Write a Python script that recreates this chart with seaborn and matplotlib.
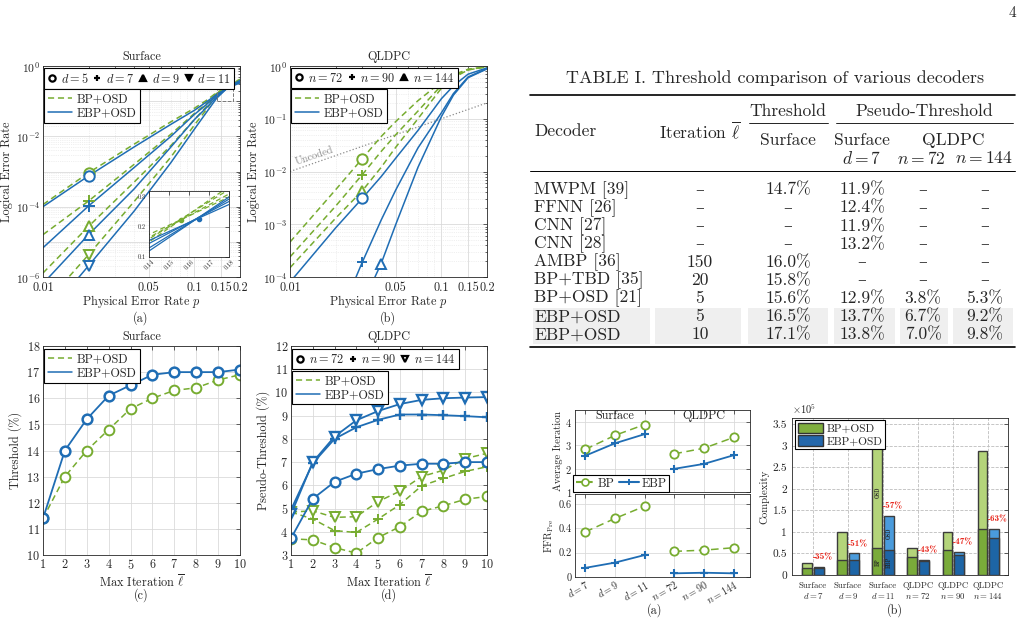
import numpy as np
import pandas as pd
import matplotlib
matplotlib.use('Agg')
from matplotlib import pyplot as plt
from matplotlib import ticker
from matplotlib.lines import Line2D
from matplotlib.patches import Patch, Rectangle
import seaborn as sns

# ---------------- data ----------------
# (a) surface code: logical error rate vs physical error rate
surf_p = [0.01, 0.02, 0.04, 0.07, 0.1, 0.12, 0.14, 0.16, 0.18, 0.2]
surf_d = [5, 7, 9, 11]
surf_bp_d5 = [1.15e-4, 9.2e-4, 6.0e-3, 2.6e-2, 6.3e-2, 0.105, 0.175, 0.237, 0.30, 0.36]
surf_bp_d7 = [1.6e-5, 1.45e-4, 1.6e-3, 1.15e-2, 4.5e-2, 8.5e-2, 0.165, 0.238, 0.31, 0.38]
surf_bp_d9 = [1.3e-6, 2.75e-5, 5.0e-4, 5.5e-3, 3.0e-2, 7.0e-2, 0.16, 0.243, 0.325, 0.40]
surf_bp_d11 = [1.5e-7, 4.3e-6, 1.4e-4, 2.6e-3, 2.1e-2, 5.8e-2, 0.15, 0.243, 0.335, 0.42]
surf_ebp_d5 = [1.0e-4, 7.5e-4, 5.0e-3, 2.2e-2, 5.5e-2, 9.5e-2, 0.155, 0.215, 0.275, 0.33]
surf_ebp_d7 = [6.8e-6, 1.05e-4, 1.3e-3, 1.0e-2, 4.2e-2, 8.0e-2, 0.145, 0.215, 0.285, 0.35]
surf_ebp_d9 = [6.5e-7, 1.6e-5, 3.2e-4, 5.0e-3, 3.0e-2, 6.5e-2, 0.13, 0.212, 0.293, 0.37]
surf_ebp_d11 = [6e-8, 2.1e-6, 7.5e-5, 1.8e-3, 1.6e-2, 4.8e-2, 0.12, 0.21, 0.30, 0.39]
surf_mark_p = 0.02
surf_th_p = [0.156, 0.165]
surf_th_ler = [0.222, 0.226]

# (b) QLDPC codes
qldpc_p = [0.01, 0.02, 0.03, 0.04, 0.05, 0.07, 0.1, 0.12, 0.15, 0.2]
qldpc_n = [72, 90, 144]
qldpc_bp_n72 = [4.6e-4, 4.5e-3, 1.75e-2, 4.6e-2, 8.9e-2, 0.22, 0.50, 0.68, 0.87, 0.97]
qldpc_bp_n90 = [2.4e-4, 2.2e-3, 8.7e-3, 2.4e-2, 5.0e-2, 0.14, 0.43, 0.63, 0.85, 0.97]
qldpc_bp_n144 = [1.5e-4, 1.3e-3, 4.3e-3, 1.2e-2, 2.9e-2, 0.10, 0.38, 0.60, 0.84, 0.97]
qldpc_ebp_n72 = [8e-5, 8.5e-4, 3.1e-3, 8.0e-3, 1.8e-2, 6.0e-2, 0.24, 0.42, 0.70, 0.92]
qldpc_ebp_n90 = [1e-7, 1.2e-5, 1.9e-4, 1.2e-3, 4.5e-3, 2.8e-2, 0.13, 0.30, 0.62, 0.90]
qldpc_ebp_n144 = [1e-9, 1e-6, 3.0e-5, 1.8e-4, 1.0e-3, 1.2e-2, 0.11, 0.28, 0.60, 0.88]
qldpc_mark_p_bp = [0.03, 0.03, 0.03]
qldpc_mark_p_ebp = [0.03, 0.03, 0.04]
uncoded_p = [0.01, 0.2]

# (c) / (d) thresholds vs max iteration
iters = [1, 2, 3, 4, 5, 6, 7, 8, 9, 10]
thr_bp = [11.4, 13.0, 14.0, 14.8, 15.6, 16.0, 16.3, 16.4, 16.7, 16.9]
thr_ebp = [11.4, 14.0, 15.2, 16.1, 16.5, 16.9, 17.0, 17.0, 17.0, 17.1]
pthr_bp_n72 = [3.7, 3.65, 3.32, 3.08, 3.75, 4.22, 4.88, 5.12, 5.4, 5.52]
pthr_bp_n90 = [4.85, 4.55, 4.05, 3.97, 4.55, 5.17, 5.98, 6.3, 6.6, 6.8]
pthr_bp_n144 = [4.85, 4.9, 4.62, 4.65, 5.3, 5.75, 6.38, 6.65, 7.15, 7.38]
pthr_ebp_n72 = [3.72, 5.42, 6.15, 6.5, 6.7, 6.85, 6.93, 6.93, 7.0, 7.0]
pthr_ebp_n90 = [4.95, 6.95, 8.0, 8.5, 8.82, 9.05, 9.05, 9.02, 8.98, 8.93]
pthr_ebp_n144 = [4.75, 7.0, 8.1, 8.8, 9.2, 9.5, 9.68, 9.75, 9.78, 9.8]

# table
tab_decoder = ['MWPM [39]', 'FFNN [26]', 'CNN [27]', 'CNN [28]', 'AMBP [36]',
               'BP+TBD [35]', 'BP+OSD [21]', 'EBP+OSD', 'EBP+OSD']
tab_iter = ['–', '–', '–', '–', '150', '20', '5', '5', '10']
tab_thr_surf = ['14.7%', '–', '–', '–', '16.0%', '15.8%', '15.6%', '16.5%', '17.1%']
tab_pt_surf = ['11.9%', '12.4%', '11.9%', '13.2%', '–', '–', '12.9%', '13.7%', '13.8%']
tab_pt_n72 = ['–', '–', '–', '–', '–', '–', '3.8%', '6.7%', '7.0%']
tab_pt_n144 = ['–', '–', '–', '–', '–', '–', '5.3%', '9.2%', '9.8%']

# bottom right (a): average iterations and FFR
cfg_labels = ['$d=7$', '$d=9$', '$d=11$', '$n=72$', '$n=90$', '$n=144$']
cfg_family = ['Surface', 'Surface', 'Surface', 'QLDPC', 'QLDPC', 'QLDPC']
avg_iter_bp = [2.82, 3.42, 3.88, 2.63, 2.87, 3.33]
avg_iter_ebp = [2.55, 3.08, 3.47, 1.99, 2.20, 2.57]
ffr_bp = [0.37, 0.48, 0.58, 0.21, 0.22, 0.24]
ffr_ebp = [0.075, 0.118, 0.18, 0.03, 0.035, 0.03]

# bottom right (b): complexity (x 1e5)
cx_labels = ['Surface\n$d=7$', 'Surface\n$d=9$', 'Surface\n$d=11$',
             'QLDPC\n$n=72$', 'QLDPC\n$n=90$', 'QLDPC\n$n=144$']
cx_bp_total = [0.29, 1.01, 3.22, 0.63, 1.00, 2.89]
cx_bp_bp = [0.17, 0.36, 0.62, 0.42, 0.57, 1.06]
cx_ebp_total = [0.19, 0.50, 1.38, 0.35, 0.53, 1.08]
cx_ebp_bp = [0.155, 0.34, 0.58, 0.33, 0.46, 0.85]
cx_reduction = ['-35%', '-51%', '-57%', '-43%', '-47%', '-63%']

# ---------------- style ----------------
GREEN = '#77ac30'
BLUE = '#1f6db4'
PAL = {'BP+OSD': GREEN, 'EBP+OSD': BLUE}
DASHES = {'BP+OSD': (4, 2.5), 'EBP+OSD': ''}
DASH_LS = (0, (4, 2.5))
AXC = '#262626'

sns.set_style('white')
plt.rcParams.update({
    'font.family': ['cmr10', 'DejaVu Serif'],
    'mathtext.fontset': 'cm',
    'axes.formatter.use_mathtext': True,
    'axes.unicode_minus': False,
    'legend.fancybox': False,
    'legend.edgecolor': 'k',
    'legend.framealpha': 1,
})

W, H = 1032, 622
fig = plt.figure(figsize=(W / 100, H / 100), dpi=100)


def px_axes(l, t, r, b):
    return fig.add_axes([l / W, 1 - b / H, (r - l) / W, (b - t) / H])


def matlab_axes(ax, fs=8.8, grid_minor=False):
    for s in ax.spines.values():
        s.set_color(AXC)
        s.set_linewidth(0.6)
    ax.tick_params(which='both', direction='in', top=True, right=True,
                   colors=AXC, labelsize=fs, length=3, width=0.5, pad=2)
    ax.tick_params(which='minor', length=1.5)
    ax.grid(True, which='major', color='#dadada', lw=0.6, ls='-')
    if grid_minor:
        ax.grid(True, which='minor', color='#e2e2e2', lw=0.5, ls=':')
    ax.set_axisbelow(True)


def frame(leg):
    leg.get_frame().set_linewidth(0.8)
    leg.get_frame().set_edgecolor('k')


def ler_frame(names, p, bp_lists, ebp_lists, key):
    rows = []
    for nm, bp, ebp in zip(names, bp_lists, ebp_lists):
        rows += [('BP+OSD', nm, x, v) for x, v in zip(p, bp)]
        rows += [('EBP+OSD', nm, x, v) for x, v in zip(p, ebp)]
    return pd.DataFrame(rows, columns=['decoder', key, 'p', 'ler'])


def ler_lines(ax, df, key, lw=1.1):
    sns.lineplot(data=df, x='p', y='ler', hue='decoder', style='decoder', units=key,
                 estimator=None, sort=False, palette=PAL, dashes=DASHES, lw=lw,
                 legend=False, ax=ax)


def log_ticks(ax, ymin, even_only):
    ax.set_xlim(0.01, 0.2)
    ax.set_ylim(ymin, 1)
    ax.xaxis.set_major_locator(ticker.FixedLocator([0.01, 0.05, 0.1, 0.15, 0.2]))
    ax.xaxis.set_major_formatter(ticker.FuncFormatter(lambda v, pos: f'{v:g}'))
    ax.xaxis.set_minor_locator(ticker.LogLocator(base=10, subs=np.arange(2, 10)))
    ax.xaxis.set_minor_formatter(ticker.NullFormatter())
    ax.yaxis.set_major_locator(ticker.LogLocator(base=10, numticks=20))
    ax.yaxis.set_minor_locator(ticker.LogLocator(base=10, subs=np.arange(2, 10), numticks=20))
    ax.yaxis.set_minor_formatter(ticker.NullFormatter())

    def fmt(v, pos):
        e = int(round(np.log10(v)))
        if even_only and e % 2:
            return ''
        return r'$10^{%d}$' % e
    ax.yaxis.set_major_formatter(ticker.FuncFormatter(fmt))


line_handles = [Line2D([], [], color=GREEN, ls=DASH_LS, lw=1.1),
                Line2D([], [], color=BLUE, lw=1.1)]


def marker_legend(ax, markers, fills, labels, y):
    hs = [Line2D([], [], ls='none', marker=m, color='k', mfc=f, mec='k', ms=4.5, mew=1.6)
          for m, f in zip(markers, fills)]
    leg = ax.legend(hs, labels, loc='upper left', bbox_to_anchor=(0.006, y), ncol=len(hs),
                    handlelength=0.7, handletextpad=0.35, columnspacing=0.4, borderpad=0.3,
                    borderaxespad=0, fontsize=8.8)
    frame(leg)
    ax.add_artist(leg)


def line_legend(ax, y, fs=8.8):
    leg = ax.legend(line_handles, ['BP+OSD', 'EBP+OSD'], loc='upper left',
                    bbox_to_anchor=(0.006, y), handlelength=2.0, handletextpad=0.35,
                    borderpad=0.3, borderaxespad=0, labelspacing=0.15, fontsize=fs)
    frame(leg)
    return leg


# ---------------- (a) surface LER ----------------
ax = px_axes(43, 66, 240, 277)
ax.set_xscale('log')
ax.set_yscale('log')
df_a = ler_frame(surf_d, surf_p, [surf_bp_d5, surf_bp_d7, surf_bp_d9, surf_bp_d11],
                 [surf_ebp_d5, surf_ebp_d7, surf_ebp_d9, surf_ebp_d11], 'd')
ler_lines(ax, df_a, 'd')
surf_markers = ['o', '+', '^', 'v']
i_mark = surf_p.index(surf_mark_p)
for m, bp, ebp in zip(surf_markers, [surf_bp_d5, surf_bp_d7, surf_bp_d9, surf_bp_d11],
                      [surf_ebp_d5, surf_ebp_d7, surf_ebp_d9, surf_ebp_d11]):
    for vals, c in ((bp, GREEN), (ebp, BLUE)):
        ax.plot(surf_mark_p, vals[i_mark], marker=m, mfc='white', mec=c, ms=7.5 if m != '+' else 8,
                mew=1.4, zorder=4)
log_ticks(ax, 1e-6, True)
matlab_axes(ax, grid_minor=True)
ax.tick_params(axis='x', pad=3.5)
ax.tick_params(axis='y', labelsize=8.4)
ax.add_patch(Rectangle((0.14, 0.1), 0.04, 0.2, fill=False, ec='#777777', lw=0.7, ls='--', zorder=5))
ax.set_title('Surface', fontsize=8.8, pad=4)
ax.set_xlabel('Physical Error Rate $p$', fontsize=8.8, labelpad=-0.5)
ax.set_ylabel('Logical Error Rate', fontsize=8.8, labelpad=2)
marker_legend(ax, surf_markers, ['white', 'k', 'k', 'k'], [f'$d={d}$' for d in surf_d], 0.99)
line_legend(ax, 0.89)

# inset
axi = px_axes(149, 191, 229, 257)
ler_lines(axi, df_a, 'd', lw=0.9)
axi.plot(surf_th_p[0], surf_th_ler[0], 'o', color=GREEN, ms=3, zorder=4)
axi.plot(surf_th_p[1], surf_th_ler[1], 'o', color=BLUE, ms=3, zorder=4)
axi.set_xlim(0.14, 0.18)
axi.set_ylim(0.1, 0.32)
axi.set_xticks([0.14, 0.15, 0.16, 0.17, 0.18])
axi.set_yticks([0.1, 0.2, 0.3])
axi.xaxis.set_major_formatter(ticker.FuncFormatter(lambda v, pos: f'{v:.2f}'))
axi.yaxis.set_major_formatter(ticker.FuncFormatter(lambda v, pos: f'{v:.1f}'))
matlab_axes(axi, fs=4.5)
axi.tick_params(axis='x', labelrotation=45, pad=1)
axi.set_xlabel('')
axi.set_ylabel('')
axi.set_facecolor('white')

# ---------------- (b) QLDPC LER ----------------
ax = px_axes(290, 66, 487, 277)
ax.set_xscale('log')
ax.set_yscale('log')
bp_q = [qldpc_bp_n72, qldpc_bp_n90, qldpc_bp_n144]
ebp_q = [qldpc_ebp_n72, qldpc_ebp_n90, qldpc_ebp_n144]
df_b = ler_frame(qldpc_n, qldpc_p, bp_q, ebp_q, 'n')
ax.plot(uncoded_p, uncoded_p, ls=':', color='#8c8c8c', lw=0.9, zorder=1.5)
ler_lines(ax, df_b, 'n')
q_markers = ['o', '+', '^']
for m, vals, pm in zip(q_markers, bp_q, qldpc_mark_p_bp):
    ax.plot(pm, vals[qldpc_p.index(pm)], marker=m, mfc='white', mec=GREEN, ms=7.5, mew=1.4, zorder=4)
for m, vals, pm in zip(q_markers, ebp_q, qldpc_mark_p_ebp):
    ax.plot(pm, vals[qldpc_p.index(pm)], marker=m, mfc='white', mec=BLUE, ms=7.5, mew=1.4, zorder=4)
log_ticks(ax, 1e-4, False)
matlab_axes(ax, grid_minor=True)
ax.tick_params(axis='x', pad=3.5)
ax.tick_params(axis='y', labelsize=8.4)
ax.text(0.0112, 0.0122, 'Uncoded', rotation=19, rotation_mode='anchor', color='#8c8c8c',
        fontsize=7.5, ha='left', va='bottom')
ax.set_title('QLDPC', fontsize=8.8, pad=4)
ax.set_xlabel('Physical Error Rate $p$', fontsize=8.8, labelpad=-0.5)
ax.set_ylabel('Logical Error Rate', fontsize=8.8, labelpad=2)
marker_legend(ax, q_markers, ['white', 'k', 'k'], [f'$n={n}$' for n in qldpc_n], 0.99)
line_legend(ax, 0.89)

# ---------------- (c) surface threshold vs iteration ----------------
ax = px_axes(43, 346, 240, 555)
sns.lineplot(x=iters, y=thr_bp, ax=ax, color=GREEN, ls=DASH_LS, lw=1.1, marker='o',
             mfc='white', mec=GREEN, ms=7, mew=1.4)
sns.lineplot(x=iters, y=thr_ebp, ax=ax, color=BLUE, lw=1.3, marker='o',
             mfc='white', mec=BLUE, ms=7, mew=1.8)
ax.set_xlim(1, 10)
ax.set_ylim(10, 18)
ax.set_xticks(iters)
ax.set_yticks(range(10, 19))
matlab_axes(ax)
ax.set_title('Surface', fontsize=8.8, pad=4)
ax.set_xlabel(r'Max Iteration $\overline{\ell}$', fontsize=8.8, labelpad=1)
ax.set_ylabel('Threshold (%)', fontsize=8.8, labelpad=3)
line_legend(ax, 0.985)

# ---------------- (d) QLDPC pseudo-threshold vs iteration ----------------
ax = px_axes(291, 346, 487, 555)
d_markers = ['o', '+', 'v']
for m, bp in zip(d_markers, [pthr_bp_n72, pthr_bp_n90, pthr_bp_n144]):
    sns.lineplot(x=iters, y=bp, ax=ax, color=GREEN, ls=DASH_LS, lw=1.1, marker=m,
                 mfc='white', mec=GREEN, ms=7, mew=1.4)
for m, ebp in zip(d_markers, [pthr_ebp_n72, pthr_ebp_n90, pthr_ebp_n144]):
    sns.lineplot(x=iters, y=ebp, ax=ax, color=BLUE, lw=1.3, marker=m,
                 mfc='white', mec=BLUE, ms=7, mew=1.7)
ax.set_xlim(1, 10)
ax.set_ylim(3, 12)
ax.set_xticks(iters)
ax.set_yticks(range(3, 13))
matlab_axes(ax)
ax.set_title('QLDPC', fontsize=8.8, pad=4)
ax.set_xlabel(r'Max Iteration $\overline{\ell}$', fontsize=8.8, labelpad=1)
ax.set_ylabel('Pseudo-Threshold (%)', fontsize=8.8, labelpad=3)
marker_legend(ax, d_markers, ['white', 'k', 'white'], [f'$n={n}$' for n in qldpc_n], 0.985)
line_legend(ax, 0.88)

# captions
for x, y, s in ((141, 318, '(a)'), (388, 318, '(b)'), (141, 595, '(c)'), (389, 595, '(d)'),
                (655, 610, '(a)'), (895, 610, '(b)')):
    fig.text(x / W, 1 - y / H, s, ha='center', va='center', fontsize=8.8)
fig.text(1012 / W, 1 - 13 / H, '4', ha='center', va='center', fontsize=11)

# ---------------- table ----------------
axt = fig.add_axes([0, 0, 1, 1], zorder=-1)
axt.set_xlim(0, W)
axt.set_ylim(H, 0)
axt.axis('off')
TFS = 12.6
axt.text(775, 78, 'TABLE I. Threshold comparison of various decoders', ha='center', va='center',
         fontsize=13)
axt.plot([530, 1015], [95, 95], color='k', lw=1.2)
axt.plot([749, 828], [123, 123], color='k', lw=0.6)
axt.plot([836, 1013], [123, 123], color='k', lw=0.6)
axt.plot([530, 1015], [171, 171], color='k', lw=0.7)
axt.plot([530, 1015], [347, 347], color='k', lw=1.2)
axt.text(534, 131, 'Decoder', ha='left', va='center', fontsize=TFS)
axt.text(700, 131, r'Iteration $\overline{\ell}$', ha='center', va='center', fontsize=TFS)
axt.text(788, 111, 'Threshold', ha='center', va='center', fontsize=TFS)
axt.text(924, 111, 'Pseudo-Threshold', ha='center', va='center', fontsize=TFS)
axt.text(788, 140, 'Surface', ha='center', va='center', fontsize=TFS)
axt.text(862, 140, 'Surface', ha='center', va='center', fontsize=TFS)
axt.text(953, 140, 'QLDPC', ha='center', va='center', fontsize=TFS)
axt.text(862, 158, '$d=7$', ha='center', va='center', fontsize=TFS)
axt.text(921, 158, '$n=72$', ha='center', va='center', fontsize=TFS)
axt.text(984, 158, '$n=144$', ha='center', va='center', fontsize=TFS)
row0, row_h = 190, 18.1
shade_cols = [(533, 650), (655, 741), (748, 828), (834, 895), (900, 948), (953, 1013)]
for i in range(len(tab_decoder)):
    y = row0 + i * row_h
    if tab_decoder[i] == 'EBP+OSD':
        for l, r in shade_cols:
            axt.add_patch(Rectangle((l, y - row_h / 2), r - l, row_h, color='#efefef', lw=0, zorder=0))
    axt.text(534, y, tab_decoder[i], ha='left', va='center', fontsize=TFS)
    for x, col in ((700, tab_iter), (788, tab_thr_surf), (862, tab_pt_surf),
                   (923, tab_pt_n72), (985, tab_pt_n144)):
        axt.text(x, y, col[i], ha='center', va='center', fontsize=TFS)

# ---------------- bottom right (a) ----------------
ax_ai = px_axes(575, 410, 750, 492)
ax_ff = px_axes(575, 494, 750, 577)
xpos = np.arange(len(cfg_labels))
df_br = pd.DataFrame({'x': np.concatenate([xpos, xpos]),
                      'family': cfg_family * 2,
                      'decoder': ['BP'] * len(xpos) + ['EBP'] * len(xpos),
                      'avg': avg_iter_bp + avg_iter_ebp,
                      'ffr': ffr_bp + ffr_ebp})
for a, col in ((ax_ai, 'avg'), (ax_ff, 'ffr')):
    sub = df_br[df_br.decoder == 'BP']
    sns.lineplot(data=sub, x='x', y=col, units='family', estimator=None, ax=a, color=GREEN,
                 ls=(0, (5, 3)), lw=1.1, marker='o', mfc='white', mec=GREEN, ms=6, mew=1.3)
    sub = df_br[df_br.decoder == 'EBP']
    sns.lineplot(data=sub, x='x', y=col, units='family', estimator=None, ax=a, color=BLUE,
                 lw=1.3, marker='+', mec=BLUE, ms=6, mew=1.5)
    a.set_xlim(-0.35, 5.55)
    a.set_xticks(xpos)
    matlab_axes(a, fs=7.5)
    a.set_xlabel('')
ax_ai.set_ylim(1, 4.5)
ax_ai.set_yticks([1, 2, 3, 4])
ax_ai.set_xticklabels([])
ax_ff.set_ylim(0, 0.68)
ax_ff.set_yticks([0, 0.2, 0.4, 0.6])
ax_ff.yaxis.set_major_formatter(ticker.FuncFormatter(lambda v, pos: f'{v:g}'))
ax_ff.set_xticklabels(cfg_labels, rotation=30, ha='right', rotation_mode='anchor', fontsize=7.2)
ax_ff.tick_params(axis='x', pad=1)
ax_ai.set_ylabel('Average Iteration', fontsize=7.5, labelpad=2)
ax_ff.set_ylabel(r'FFR$_{\mathrm{Pre}}$', fontsize=7.5, labelpad=2)
fig.align_ylabels([ax_ai, ax_ff])
for fam in ('Surface', 'QLDPC'):
    xc = df_br[(df_br.family == fam) & (df_br.decoder == 'BP')].x.mean()
    ax_ai.text(xc, 0.93, fam, transform=ax_ai.get_xaxis_transform(), ha='center', va='center',
               fontsize=8.8)
leg = ax_ai.legend([Line2D([], [], color=GREEN, ls=(0, (3, 2)), marker='o', mfc='white', ms=5, mew=1.2),
                    Line2D([], [], color=BLUE, marker='+', ms=5, mew=1.4)], ['BP', 'EBP'],
                   loc='lower left', bbox_to_anchor=(-0.01, 0.0), ncol=2, handlelength=1.6,
                   handletextpad=0.2, columnspacing=0.4, borderpad=0.2, borderaxespad=0,
                   fontsize=8.8)
frame(leg)

# ---------------- bottom right (b) complexity ----------------
LG, DG = '#b4d47a', '#7aab3a'
LB, DB = '#4a9bdc', '#1d65a6'
ax = px_axes(792, 418, 1008, 575)
df_cx = pd.DataFrame({'config': cx_labels * 2,
                      'decoder': ['BP+OSD'] * len(cx_labels) + ['EBP+OSD'] * len(cx_labels),
                      'total': cx_bp_total + cx_ebp_total,
                      'bp': cx_bp_bp + cx_ebp_bp})
for col, pal in (('total', {'BP+OSD': LG, 'EBP+OSD': LB}), ('bp', {'BP+OSD': DG, 'EBP+OSD': DB})):
    sns.barplot(data=df_cx, x='config', y=col, hue='decoder', palette=pal, width=0.64, gap=0.12,
                edgecolor='#3c3c3c', linewidth=1.0, errorbar=None, legend=False, ax=ax,
                saturation=1)
ax.set_xlim(-0.6, 5.57)
ax.set_ylim(0, 3.65)
ax.set_yticks(np.arange(0, 3.6, 0.5))
ax.yaxis.set_major_formatter(ticker.FuncFormatter(lambda v, pos: f'{v:g}'))
for s in ax.spines.values():
    s.set_color(AXC)
    s.set_linewidth(0.6)
ax.tick_params(direction='in', top=True, right=True, colors=AXC, labelsize=8.2, length=3, width=0.5)
ax.tick_params(axis='x', labelsize=6.3, length=0, pad=4.5)
ax.grid(True, ls='--', color='#bdbdbd', lw=0.6)
ax.set_axisbelow(True)
ax.set_xlabel('')
ax.set_ylabel('Complexity', fontsize=7.8, labelpad=2)
ax.text(0, 1.01, r'$\times10^5$', transform=ax.transAxes, fontsize=7.5, va='bottom', ha='left')
bp_tot_bars, ebp_tot_bars = ax.containers[0], ax.containers[1]
for bar, val, red in zip(ebp_tot_bars, cx_ebp_total, cx_reduction):
    ax.text(bar.get_x() + bar.get_width() / 2 + 0.12, val + 0.22, red, color='#e8281e',
            fontsize=6.6, family='cmb10', ha='center', va='center')
k = cx_labels.index('Surface\n$d=11$')
for bars, tot, low, tags in ((bp_tot_bars, cx_bp_total, cx_bp_bp, ('OSD', 'BP')),
                             (ebp_tot_bars, cx_ebp_total, cx_ebp_bp, ('OSD', 'EBP'))):
    xc = bars[k].get_x() + bars[k].get_width() / 2
    ax.text(xc, (tot[k] + low[k]) / 2, tags[0], rotation=90, fontsize=4, family='cmb10',
            ha='center', va='center')
    ax.text(xc, low[k] / 2, tags[1], rotation=90, fontsize=4, family='cmb10',
            ha='center', va='center')
leg = ax.legend([Patch(fc='#7fae3e', ec='#333333'), Patch(fc='#2367ab', ec='#333333')],
                ['BP+OSD', 'EBP+OSD'], loc='upper left', bbox_to_anchor=(0.015, 0.985),
                handlelength=2.2, handleheight=1.0, handletextpad=0.3, borderpad=0.25,
                borderaxespad=0, labelspacing=0.1, fontsize=8.2)
frame(leg)

fig.savefig('out.png', dpi=100)
